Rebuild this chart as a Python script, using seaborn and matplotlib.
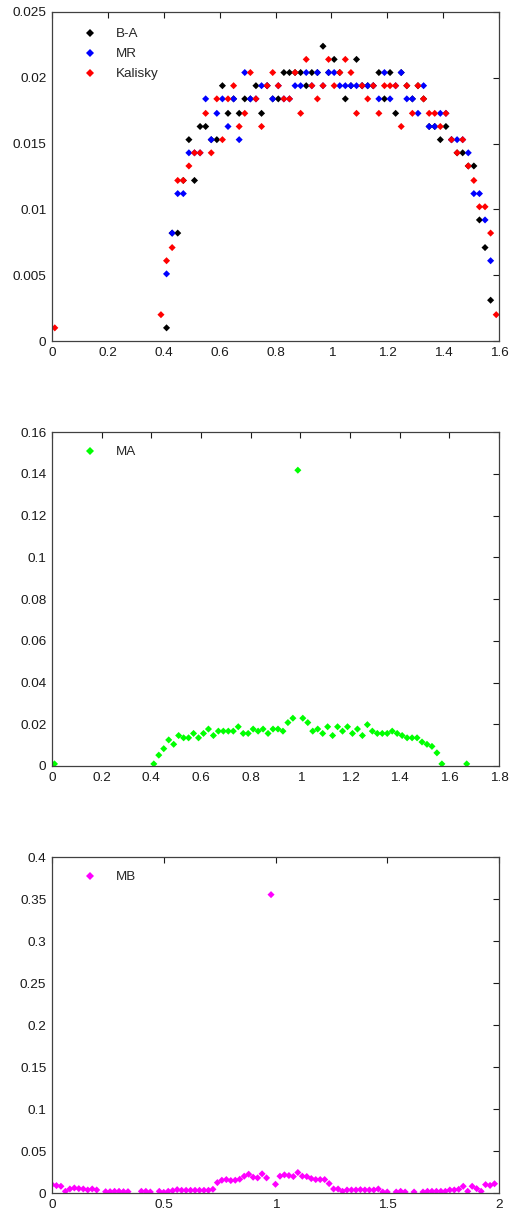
import numpy as np
import pandas as pd
import matplotlib
matplotlib.use("Agg")
import matplotlib.pyplot as plt
from matplotlib.ticker import FuncFormatter, MultipleLocator
import seaborn as sns

# ---------------- data: top panel ----------------
x_top = [0.01, 0.39, 0.41, 0.43, 0.45, 0.47, 0.49, 0.51, 0.53, 0.55, 0.57, 0.59,
         0.61, 0.63, 0.65, 0.67, 0.69, 0.71, 0.73, 0.75, 0.77, 0.79, 0.81, 0.83,
         0.85, 0.87, 0.89, 0.91, 0.93, 0.95, 0.97, 0.99, 1.01, 1.03, 1.05, 1.07,
         1.09, 1.11, 1.13, 1.15, 1.17, 1.19, 1.21, 1.23, 1.25, 1.27, 1.29, 1.31,
         1.33, 1.35, 1.37, 1.39, 1.41, 1.43, 1.45, 1.47, 1.49, 1.51, 1.53, 1.55,
         1.57, 1.59]
ba_y = [None, None, 0.0010, 0.0082, 0.0082, 0.0122, 0.0153, 0.0122, 0.0163, 0.0163,
        0.0153, 0.0153, 0.0194, 0.0173, 0.0184, 0.0173, 0.0184, 0.0184, 0.0194, 0.0173,
        0.0194, 0.0184, 0.0184, 0.0204, 0.0204, 0.0204, 0.0204, 0.0194, 0.0204, 0.0204,
        0.0224, 0.0204, 0.0214, 0.0204, 0.0184, 0.0194, 0.0214, 0.0194, 0.0194, 0.0194,
        0.0204, 0.0184, 0.0204, 0.0173, 0.0204, 0.0194, 0.0184, 0.0194, 0.0184, 0.0163,
        0.0163, 0.0153, 0.0163, 0.0153, 0.0143, 0.0143, 0.0133, 0.0133, 0.0092, 0.0071,
        0.0031, None]
mr_y = [None, None, 0.0051, 0.0082, 0.0112, 0.0112, 0.0143, 0.0143, 0.0143, 0.0184,
        0.0153, 0.0173, 0.0184, 0.0163, 0.0184, 0.0153, 0.0204, 0.0184, 0.0184, 0.0194,
        0.0194, 0.0184, 0.0194, 0.0184, 0.0184, 0.0194, 0.0194, 0.0204, 0.0194, 0.0204,
        0.0194, 0.0204, 0.0204, 0.0194, 0.0194, 0.0194, 0.0194, 0.0194, 0.0194, 0.0194,
        0.0184, 0.0204, 0.0184, 0.0194, 0.0204, 0.0184, 0.0184, 0.0173, 0.0194, 0.0163,
        0.0163, 0.0173, 0.0173, 0.0153, 0.0153, 0.0153, 0.0143, 0.0112, 0.0112, 0.0092,
        0.0061, None]
kal_y = [0.0010, 0.0020, 0.0061, 0.0071, 0.0122, 0.0122, 0.0133, 0.0143, 0.0143, 0.0173,
         0.0143, 0.0184, 0.0153, 0.0184, 0.0194, 0.0163, 0.0173, 0.0204, 0.0184, 0.0163,
         0.0194, 0.0204, 0.0194, 0.0184, 0.0184, 0.0204, 0.0173, 0.0214, 0.0194, 0.0184,
         0.0194, 0.0214, 0.0194, 0.0204, 0.0214, 0.0204, 0.0173, 0.0194, 0.0184, 0.0194,
         0.0173, 0.0194, 0.0194, 0.0194, 0.0163, 0.0194, 0.0173, 0.0194, 0.0184, 0.0173,
         0.0173, 0.0163, 0.0173, 0.0153, 0.0143, 0.0153, 0.0133, 0.0122, 0.0102, 0.0102,
         0.0082, 0.0020]
top_labels = ["B-A", "MR", "Kalisky"]
top_colors = ["#000000", "#0000FF", "#FF0000"]

# ---------------- data: middle panel ----------------
x_ma = [0.01, 0.41, 0.43, 0.45, 0.47, 0.49, 0.51, 0.53, 0.55, 0.57, 0.59, 0.61, 0.63,
        0.65, 0.67, 0.69, 0.71, 0.73, 0.75, 0.77, 0.79, 0.81, 0.83, 0.85, 0.87, 0.89,
        0.91, 0.93, 0.95, 0.97, 0.99, 1.01, 1.03, 1.05, 1.07, 1.09, 1.11, 1.13, 1.15,
        1.17, 1.19, 1.21, 1.23, 1.25, 1.27, 1.29, 1.31, 1.33, 1.35, 1.37, 1.39, 1.41,
        1.43, 1.45, 1.47, 1.49, 1.51, 1.53, 1.55, 1.57, 1.67]
ma_y = [0.0010, 0.0010, 0.0052, 0.0083, 0.0125, 0.0104, 0.0146, 0.0135, 0.0135, 0.0156,
        0.0135, 0.0156, 0.0177, 0.0146, 0.0167, 0.0167, 0.0167, 0.0167, 0.0188, 0.0156,
        0.0156, 0.0177, 0.0167, 0.0177, 0.0156, 0.0177, 0.0177, 0.0167, 0.0208, 0.0229,
        0.1417, 0.0229, 0.0208, 0.0167, 0.0177, 0.0156, 0.0188, 0.0146, 0.0188, 0.0167,
        0.0188, 0.0156, 0.0177, 0.0146, 0.0198, 0.0167, 0.0156, 0.0156, 0.0156, 0.0167,
        0.0156, 0.0146, 0.0135, 0.0135, 0.0135, 0.0115, 0.0104, 0.0094, 0.0063, 0.0010,
        0.0010]
ma_label = "MA"
ma_color = "#00FF00"

# ---------------- data: bottom panel ----------------
x_mb = [0.00, 0.02, 0.04, 0.06, 0.08, 0.10, 0.12, 0.14, 0.16, 0.18, 0.20,
        0.24, 0.26, 0.28, 0.30, 0.32, 0.34,
        0.40, 0.42, 0.44,
        0.48, 0.50, 0.52, 0.54, 0.56, 0.58, 0.60, 0.62, 0.64, 0.66, 0.68, 0.70, 0.72,
        0.74, 0.76, 0.78, 0.80, 0.82, 0.84, 0.86, 0.88, 0.90, 0.92, 0.94, 0.96, 0.98,
        1.00, 1.02, 1.04, 1.06, 1.08, 1.10, 1.12, 1.14, 1.16, 1.18, 1.20, 1.22, 1.24,
        1.26, 1.28, 1.30, 1.32, 1.34, 1.36, 1.38, 1.40, 1.42, 1.44, 1.46, 1.48, 1.50,
        1.54, 1.56, 1.58, 1.62, 1.66, 1.68, 1.70, 1.72, 1.74, 1.76, 1.78, 1.80, 1.82,
        1.84, 1.86, 1.88, 1.90, 1.92, 1.94, 1.96, 1.98]
mb_y = [0.0100, 0.0088, 0.0080, 0.0020, 0.0048, 0.0060, 0.0052, 0.0048, 0.0036, 0.0048, 0.0036,
        0.0016, 0.0016, 0.0020, 0.0020, 0.0016, 0.0016,
        0.0020, 0.0020, 0.0012,
        0.0020, 0.0008, 0.0020, 0.0028, 0.0040, 0.0032, 0.0032, 0.0032, 0.0032, 0.0032, 0.0032, 0.0032, 0.0044,
        0.0124, 0.0152, 0.0160, 0.0148, 0.0152, 0.0164, 0.0200, 0.0224, 0.0188, 0.0180, 0.0228, 0.0180, 0.3552,
        0.0104, 0.0200, 0.0216, 0.0208, 0.0196, 0.0244, 0.0200, 0.0196, 0.0172, 0.0160, 0.0160, 0.0160, 0.0112,
        0.0048, 0.0048, 0.0020, 0.0036, 0.0036, 0.0036, 0.0040, 0.0036, 0.0036, 0.0036, 0.0048, 0.0012, 0.0012,
        0.0012, 0.0020, 0.0012, 0.0012, 0.0012, 0.0020, 0.0020, 0.0020, 0.0020, 0.0020, 0.0036, 0.0036, 0.0044,
        0.0080, 0.0020, 0.0080, 0.0052, 0.0020, 0.0100, 0.0090, 0.0110]
mb_label = "MB"
mb_color = "#FF00FF"

# ---------------- style ----------------
sns.set_style("white")
plt.rcParams["font.family"] = ["Liberation Sans", "DejaVu Sans"]
FS = 9.7
MS = 13

fig = plt.figure(figsize=(5.09, 12.16), dpi=100)
W, H = 509, 1216
def add_axes(top, bottom, left=52, right=499):
    return fig.add_axes([left / W, 1 - bottom / H, (right - left) / W, (bottom - top) / H])

ax1 = add_axes(12, 341)
ax2 = add_axes(432, 766)
ax3 = add_axes(857, 1193)

fmt = FuncFormatter(lambda v, p: f"{round(v, 6):g}")

def style(ax, xmax, xstep, ymax, ystep):
    ax.set_xlim(0, xmax)
    ax.set_ylim(0, ymax)
    ax.xaxis.set_major_locator(MultipleLocator(xstep))
    ax.yaxis.set_major_locator(MultipleLocator(ystep))
    ax.xaxis.set_major_formatter(fmt)
    ax.yaxis.set_major_formatter(fmt)
    ax.tick_params(direction="in", length=4, width=0.8, top=True, right=True,
                   labelsize=FS, colors="#1a1a1a", pad=4)
    for s in ax.spines.values():
        s.set_visible(True)
        s.set_color("#404040")
        s.set_linewidth(0.9)
    ax.set_xlabel("")
    ax.set_ylabel("")

def legend(ax, axh, top_px):
    sns.move_legend(ax, "upper left", bbox_to_anchor=(0.072, 1 - top_px / axh),
                    frameon=False, title=None, fontsize=FS, borderaxespad=0,
                    borderpad=0, handlelength=0.9, handletextpad=1.45,
                    labelspacing=0.56, markerscale=1.0)

# top panel
df_top = pd.concat([
    pd.DataFrame({"x": x_top, "y": ys, "method": lab})
    for ys, lab in zip([ba_y, mr_y, kal_y], top_labels)
], ignore_index=True).dropna()
df_top["y"] = df_top["y"].astype(float)
sns.scatterplot(data=df_top, x="x", y="y", hue="method", hue_order=top_labels,
                palette=dict(zip(top_labels, top_colors)), marker="D", s=MS,
                linewidth=0, ax=ax1)
style(ax1, 1.6, 0.2, 0.025, 0.005)
legend(ax1, 329, 16)

# middle panel
df_ma = pd.DataFrame({"x": x_ma, "y": ma_y, "method": ma_label})
sns.scatterplot(data=df_ma, x="x", y="y", hue="method",
                palette={ma_label: ma_color}, marker="D", s=MS, linewidth=0, ax=ax2)
style(ax2, 1.8, 0.2, 0.16, 0.02)
legend(ax2, 334, 14)

# bottom panel
df_mb = pd.DataFrame({"x": x_mb, "y": mb_y, "method": mb_label})
sns.scatterplot(data=df_mb, x="x", y="y", hue="method",
                palette={mb_label: mb_color}, marker="D", s=MS, linewidth=0, ax=ax3)
style(ax3, 2.0, 0.5, 0.4, 0.05)
legend(ax3, 336, 14)

fig.savefig("out.png", dpi=100, facecolor="white")
